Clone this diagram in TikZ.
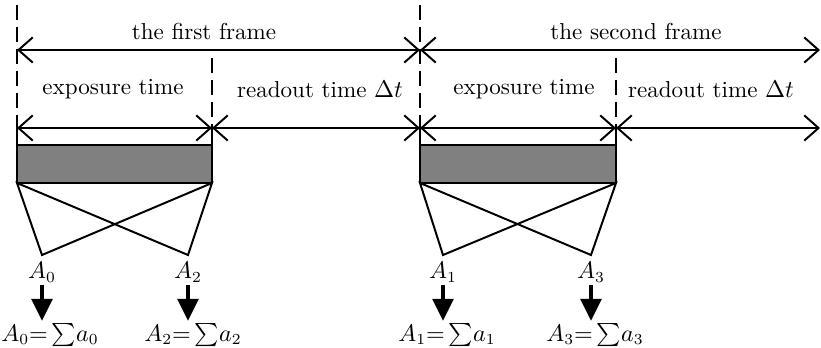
\documentclass[tikz,border=0pt]{standalone}
\usepackage{amsmath,amssymb}
\usetikzlibrary{arrows.meta, positioning}

\begin{document}
\begin{tikzpicture}[
  x=0.016cm, y=-0.016cm,
  span/.style={{Straight Barb[length=6.5pt, width=11.5pt]}-{Straight Barb[length=6.5pt, width=11.5pt]},
               line width=0.9pt},
  guide/.style={line width=0.9pt, dash pattern=on 7pt off 3pt},
  edge/.style={line width=0.9pt},
  sensor/.style={draw, line width=0.9pt, fill=black!50},
  lbl/.style={font=\fontsize{10.5}{12}\selectfont, inner sep=1pt},
  readout/.style={-{Triangle[length=10pt, width=9.5pt]}, line width=1.5pt},
  font=\fontsize{10.5}{12}\selectfont
]
\useasboundingbox (0,0) rectangle (821,348);

% marcas de tiempo
\coordinate (s0) at (17,50);
\coordinate (s1) at (420,50);
\coordinate (s2) at (820,50);
\coordinate (t0) at (17,128);
\coordinate (t1) at (212,128);
\coordinate (t2) at (420,128);
\coordinate (t3) at (616,128);
\coordinate (t4) at (820,128);

% lineas de guia
\coordinate (g0) at (17,5);
\coordinate (g1) at (212,58);
\coordinate (g2) at (420,5);
\coordinate (g3) at (616,58);
\draw[guide] (g0) -- (t0);
\draw[guide] (g1) -- (t1);
\draw[guide] (g2) -- (t2);
\draw[guide] (g3) -- (t3);

% flechas de tramas
\draw[span] (s0) -- (s1);
\draw[span] (s1) -- (s2);
\draw[span] (t0) -- (t1);
\draw[span] (t1) -- (t2);
\draw[span] (t2) -- (t3);
\draw[span] (t3) -- (t4);

% textos
\node (frame1) at (204,32) {the first frame};
\node (frame2) at (636,32) {the second frame};
\node (exp1) at (113,89) {exposure time};
\node (read1) at (320,89) {readout time $\Delta t$};
\node (exp2) at (524,89) {exposure time};
\node (read2) at (711,89) {readout time $\Delta t$};

% sensores
\coordinate (u0) at (17,145);
\coordinate (b1) at (212,183);
\coordinate (u2) at (420,145);
\coordinate (b3) at (616,183);
\draw[sensor] (u0) rectangle (b1);
\draw[sensor] (u2) rectangle (b3);
\draw[edge] (t0) -- (u0);
\draw[edge] (t1) -- (t1 |- u0);
\draw[edge] (t2) -- (u2);
\draw[edge] (t3) -- (t3 |- u2);

% lineas cruzadas
\coordinate (b0) at (17,183);
\coordinate (b2) at (420,183);
\coordinate (p0) at (42,255);
\coordinate (p2) at (188,255);
\coordinate (p1) at (443,255);
\coordinate (p3) at (591,255);
\draw[edge] (b0) -- (p0) -- (b1) -- (p2) -- cycle;
\draw[edge] (b2) -- (p1) -- (b3) -- (p3) -- cycle;

% etiquetas A
\node[lbl] (lA0) at (42,272) {$A_0$};
\node[lbl] (lA2) at (188,272) {$A_2$};
\node[lbl] (lA1) at (443,272) {$A_1$};
\node[lbl] (lA3) at (591,272) {$A_3$};
\node[lbl] (sA0) at (50,335) {$A_0{=}\,{\sum}a_0$};
\node[lbl] (sA2) at (193,335) {$A_2{=}\,{\sum}a_2$};
\node[lbl] (sA1) at (447,335) {$A_1{=}\,{\sum}a_1$};
\node[lbl] (sA3) at (595,335) {$A_3{=}\,{\sum}a_3$};

% flechas de lectura
\draw[readout] (lA0.south) -- (lA0.south |- sA0.north);
\draw[readout] (lA2.south) -- (lA2.south |- sA2.north);
\draw[readout] (lA1.south) -- (lA1.south |- sA1.north);
\draw[readout] (lA3.south) -- (lA3.south |- sA3.north);

\end{tikzpicture}
\end{document}
